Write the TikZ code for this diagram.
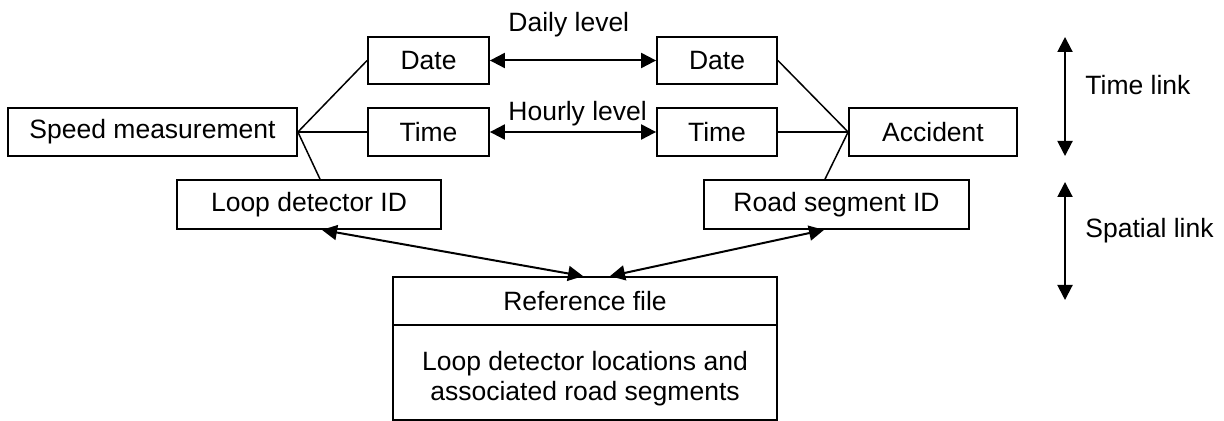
\documentclass[tikz,border=0pt]{standalone}
\usepackage{fontspec}
\setmainfont{Liberation Sans}
\usetikzlibrary{arrows.meta,calc}

\begin{document}
\begin{tikzpicture}[x=0.5pt,y=-0.5pt,
  txt/.style={font=\fontsize{13.25}{15}\selectfont},
  box/.style={draw,line width=0.9pt,inner sep=0pt,txt},
  lbl/.style={inner sep=0pt,txt},
  link/.style={line width=0.75pt},
  twoway/.style={line width=1pt,{Triangle[length=7.5pt,width=7.5pt]}-{Triangle[length=7.5pt,width=7.5pt]}},
]
\useasboundingbox (0,0) rectangle (1224,421);

% record boxes
\node[box,minimum width=144.5pt,minimum height=24pt] (speed) at (152.5,132) {Speed measurement};
\node[box,minimum width=60.5pt,minimum height=23.5pt] (dateL) at (428.5,60.5) {Date};
\node[box,minimum width=60.5pt,minimum height=24pt] (timeL) at (428.5,132) {Time};
\node[box,minimum width=60pt,minimum height=23.5pt] (dateR) at (717,60.5) {Date};
\node[box,minimum width=60pt,minimum height=24pt] (timeR) at (717,132) {Time};
\node[box,minimum width=84pt,minimum height=24pt] (accident) at (933,132) {Accident};
\node[box,minimum width=132pt,minimum height=24.5pt] (loop) at (309,204.5) {Loop detector ID};
\node[box,minimum width=132.5pt,minimum height=24.5pt] (road) at (836.5,204.5) {Road segment ID};

% reference file with its two compartments
\node[box,minimum width=192pt,minimum height=24pt] (reftop) at (585,301) {Reference file};
\node[box,minimum width=192pt,minimum height=47.5pt] (refbody) at (585,372.5) {};
\node[lbl,align=center] (reftext) at (585,379) {Loop detector locations and\\associated road segments};

% attribute links
\draw[link] (speed.east) -- (dateL.west);
\draw[link] (speed.east) -- (timeL.west);
\draw[link] (speed.east) -- ($(loop.north)+(11,0)$);
\draw[link] (accident.west) -- (dateR.east);
\draw[link] (accident.west) -- (timeR.east);
\draw[link] (accident.west) -- ($(road.north)+(-11.5,0)$);

% matching arrows
\draw[twoway] (dateL.east) -- (dateR.west);
\draw[twoway] (timeL.east) -- (timeR.west);
\draw[twoway] ($(loop.south)+(13,0)$) -- ($(reftop.north)+(-2,0)$);
\draw[twoway] ($(road.south)+(-12.5,0)$) -- ($(reftop.north)+(25,0)$);

\node[lbl,anchor=base west] (daily) at (508,32) {Daily level};
\node[lbl,anchor=base west] (hourly) at (508,121) {Hourly level};

% legend arrows
\coordinate (tlA) at (1065,37);
\coordinate (tlB) at (1065,156);
\coordinate (slA) at (1065,182);
\coordinate (slB) at (1065,300);
\draw[twoway] (tlA) -- (tlB);
\draw[twoway] (slA) -- (slB);
\node[lbl,anchor=base west] (timelink) at (1085,95) {Time link};
\node[lbl,anchor=base west] (spatiallink) at (1085,238) {Spatial link};
\end{tikzpicture}
\end{document}
